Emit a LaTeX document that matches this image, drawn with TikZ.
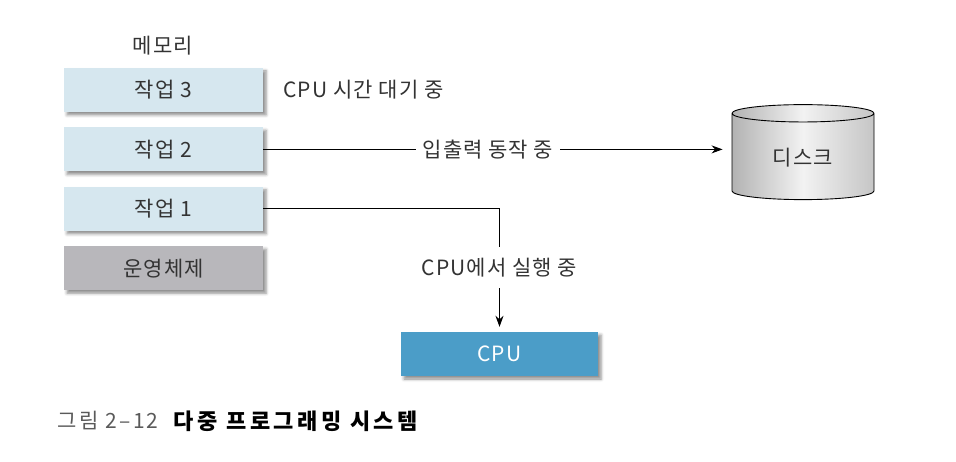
\documentclass[tikz,border=0pt]{standalone}
\usepackage{fontspec}
\setmainfont[LetterSpace=5]{Noto Sans CJK KR}
\newfontfamily\figfont[LetterSpace=11]{Noto Sans CJK KR}
\newfontfamily\titlefont[LetterSpace=16]{Noto Sans CJK KR}
\usepackage{tikz}
\usetikzlibrary{positioning,shapes.geometric,shadows.blur,arrows.meta}
\definecolor{jobblue}{HTML}{D6E7EF}
\definecolor{osgray}{HTML}{B8B7BB}
\definecolor{cpublue}{HTML}{4B9DC8}
\definecolor{textgray}{HTML}{333333}
\definecolor{capgray}{HTML}{5A5A5A}

\begin{document}
\begin{tikzpicture}[
    x=1pt, y=-1pt,
    node distance=15pt,
    >={Stealth[length=11pt,width=8pt]},
    font=\fontsize{21}{24}\selectfont,
    block/.style={
		rectangle,
		draw=none,
		minimum width=199pt,
		minimum height=44pt,
		text=textgray,
		blur shadow={shadow xshift=3pt, shadow yshift=-3pt,
		  shadow blur radius=3pt, shadow opacity=45}
	},
	job/.style={block, fill=jobblue},
	osbox/.style={block, fill=osgray},
	cpubox/.style={block, fill=cpublue, text=white, minimum width=197pt},
	disk/.style={
		cylinder,
		shape border rotate=90,
		aspect=0.26,
		draw=black,
		line width=0.9pt,
		minimum width=142pt,
		minimum height=95pt,
		left color=gray!60,
		right color=gray!45,
		middle color=gray!10,
		text=textgray
	},
	note/.style={
		fill=white,
		text=textgray,
		inner xsep=7pt,
		inner ysep=11pt
	},
	conn/.style={draw, line width=0.9pt, ->}
  ]
  \useasboundingbox (0,0) rectangle (956,462);

  % memory blocks
  \node [text=textgray] (memory) at (163,46) {메모리};
  \node [job] (job3) at (163.5,90) {작업 3};
  \node [job, below=of job3] (job2) {작업 2};
  \node [job, below=of job2] (job1) {작업 1};
  \node [osbox, below=of job1] (os) {운영체제};

  \node [anchor=west, text=textgray] (wait) at (280,90) {CPU 시간 대기 중};

  % devices
  \node [disk] (disk) at (803,158) {\raisebox{-7pt}{디스크}};
  \node [cpubox] (cpu) at (499.5,354) {CPU};

  % connectors
  \draw [conn, shorten >=9pt] (job2.east) -- node [note, pos=0.48] {입출력 동작 중} (job2.east -| disk.west);
  \draw [conn, shorten >=5pt] (job1.east) -| node [note, pos=0.74] {CPU에서 실행 중} (cpu.north);

  % caption
  \node [anchor=west, text=capgray, font=\fontsize{21}{24}\figfont] (fig) at (54,421) {그림 2–12};
  \node [anchor=west, font=\fontsize{22}{24}\titlefont\bfseries, xshift=8pt] (title) at (fig.east) {다중 프로그래밍 시스템};
\end{tikzpicture}
\end{document}
